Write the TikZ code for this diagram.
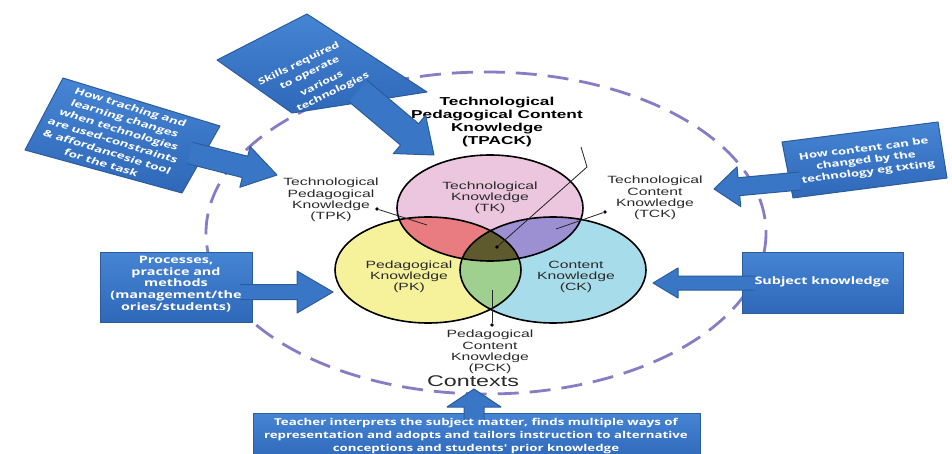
\documentclass[tikz,border=0pt]{standalone}
\usepackage{fontspec}
\usetikzlibrary{calc}
\newfontfamily\lblfont[FakeStretch=1.5]{Liberation Sans}
\newfontfamily\boxfont[FakeStretch=1.4]{Open Sans}
\definecolor{tkpink}{HTML}{EBC6DE}
\definecolor{pkyellow}{HTML}{F6F29C}
\definecolor{ckcyan}{HTML}{A7DCEA}
\definecolor{tpkred}{HTML}{E87C80}
\definecolor{tckpurple}{HTML}{9C90D2}
\definecolor{pckgreen}{HTML}{A0D08F}
\definecolor{tpackolive}{HTML}{5E5A2E}
\definecolor{calloutblue}{HTML}{3A76C6}
\definecolor{callouttop}{HTML}{4684D4}
\definecolor{calloutbottom}{HTML}{2F68B8}
\definecolor{calloutedge}{HTML}{2B5C9C}
\definecolor{contextline}{HTML}{8A7BC6}
\definecolor{lbltext}{HTML}{2A2A2A}

% arrow part of a callout: base point, tip, shaft half width, head half width, head length, prefix
\newcommand\calloutarrow[6]{%
  \coordinate (#6hb) at ($(#2)!#5!(#1)$);
  \coordinate (#6b1) at ($(#1)!#3!90:(#2)$);
  \coordinate (#6b2) at ($(#1)!#3!-90:(#2)$);
  \coordinate (#6s1) at ($(#6hb)!#3!90:(#2)$);
  \coordinate (#6s2) at ($(#6hb)!#3!-90:(#2)$);
  \coordinate (#6h1) at ($(#6hb)!#4!90:(#2)$);
  \coordinate (#6h2) at ($(#6hb)!#4!-90:(#2)$);
  \fill[calloutblue] (#6b1) -- (#6s1) -- (#6h1) -- (#2) -- (#6h2) -- (#6s2) -- (#6b2) -- cycle;
  \draw[calloutedge, line width=1pt, line join=round]
    (#6b1) -- (#6s1) -- (#6h1) -- (#2) -- (#6h2) -- (#6s2) -- (#6b2);
}
\newcommand\boxsize[2]{\boxfont\bfseries\fontsize{#1}{#2}\selectfont}

\begin{document}
\begin{tikzpicture}[x=1pt, y=-1pt,
  lbl/.style={font=\lblfont\fontsize{10.5}{11.2}\selectfont, text=lbltext, align=center, inner sep=0pt},
  boxtxt/.style={font=\boxsize{10.3}{12}, text=white, align=center, inner sep=0pt},
  callout/.style={top color=callouttop, bottom color=calloutbottom, draw=calloutedge,
    line width=1pt, line join=round},
  venn/.style={draw=black, line width=1.6pt},
  leader/.style={draw=black!85, line width=0.8pt},
  dot/.style={circle, fill=black, inner sep=0pt, minimum size=3.6pt}]

\useasboundingbox (0,0) rectangle (952,454);
\fill[white] (0,0) rectangle (952,454);

% dashed ring of contexts
\draw[contextline, line width=2.8pt, dash pattern=on 21pt off 11pt]
  (486,233) ellipse [x radius=280, y radius=161];

% ---------- Venn diagram ----------
\coordinate (tk) at (490,208);
\coordinate (pk) at (428,270);
\coordinate (ck) at (553,270);
\tikzset{vr/.style={x radius=93, y radius=53}}
\fill[tkpink] (tk) ellipse [vr];
\fill[pkyellow] (pk) ellipse [vr];
\fill[ckcyan] (ck) ellipse [vr];
\begin{scope}
  \clip (pk) ellipse [vr];
  \fill[pckgreen] (ck) ellipse [vr];
\end{scope}
\begin{scope}
  \clip (tk) ellipse [vr];
  \fill[tpkred] (pk) ellipse [vr];
  \fill[tckpurple] (ck) ellipse [vr];
  \clip (pk) ellipse [vr];
  \fill[tpackolive] (ck) ellipse [vr];
\end{scope}
\draw[venn] (tk) ellipse [vr];
\draw[venn] (pk) ellipse [vr];
\draw[venn] (ck) ellipse [vr];

% ---------- labels ----------
\node[lbl] (tklbl) at (490,198) {Technological\\Knowledge\\(TK)};
\node[lbl] (pklbl) at (409,277) {Pedagogical\\Knowledge\\(PK)};
\node[lbl] (cklbl) at (576,277) {Content\\Knowledge\\(CK)};
\node[lbl] (tpklbl) at (331,200) {Technological\\Pedagogical\\Knowledge\\(TPK)};
\node[lbl] (tcklbl) at (655,198) {Technological\\Content\\Knowledge\\(TCK)};
\node[lbl] (pcklbl) at (490,352) {Pedagogical\\Content\\Knowledge\\(PCK)};
\node[lbl, font=\lblfont\bfseries\fontsize{11.5}{13}\selectfont, text=black]
  (tpacklbl) at (497,122) {Technological\\Pedagogical Content\\Knowledge\\(TPACK)};
\node[lbl, font=\lblfont\fontsize{15.5}{16}\selectfont] (ctx) at (473,381) {Contexts};

% ---------- leader lines ----------
\node[dot] (tpkdot) at (377,209) {};
\coordinate (tpkend) at (427,225);
\draw[leader] (tpkdot) -- (tpkend);
\node[dot] (tckdot) at (605,212) {};
\coordinate (tckend) at (556,229);
\draw[leader] (tckdot) -- (tckend);
\node[dot] (pckdot) at (492,325) {};
\coordinate (pckend) at (492,290);
\draw[leader] (pckdot) -- (pckend);
\coordinate (tpackstart) at (581,147);
\coordinate (tpackbend) at (587,167);
\node[dot] (tpackdot) at (497,247) {};
\draw[leader] (tpackstart) -- (tpackbend) -- (tpackdot);

% ---------- callouts ----------
% teaching and learning with technologies
\coordinate (a1) at (25,150); \coordinate (a2) at (63,78);
\coordinate (a3) at (220,126); \coordinate (a4) at (182,193);
\coordinate (abase) at (190,153); \coordinate (atip) at (277,175);
\draw[callout] (a1) -- (a2) -- (a3) -- (a4) -- cycle;
\calloutarrow{abase}{atip}{11pt}{21pt}{33pt}{a}
\begin{scope}[shift={(116,135)}, cm={0.957,-0.293,0.467,0.884,(0,0)}]
  \node[boxtxt, transform shape, font=\boxsize{9.4}{12.6}] (atext) at (0,0)
    {How traching and\\learning changes\\when technologies\\are used-constraints\\\& affordancesie tool\\for the task};
\end{scope}

% skills
\coordinate (b1) at (217,60); \coordinate (b2) at (307,14);
\coordinate (b3) at (427,92); \coordinate (b4) at (292,113);
\coordinate (bbase) at (358,91); \coordinate (btip) at (434,155);
\draw[callout] (b1) -- (b2) -- (b3) -- (b4) -- cycle;
\calloutarrow{bbase}{btip}{14pt}{25pt}{32pt}{b}
\tikzset{skill/.style={boxtxt, rotate=26, font=\boxsize{8.9}{10}}}
\node[skill] (btext1) at (299,64) {Skills required};
\node[skill] (btext2) at (310,73.5) {to operate};
\node[skill] (btext3) at (321.5,83) {various};
\node[skill] (btext4) at (333,92.5) {technologies};

% content and technology
\coordinate (c1) at (782,142); \coordinate (c2) at (938,122);
\coordinate (c3) at (947,178); \coordinate (c4) at (793,198);
\coordinate (cbase) at (800,181); \coordinate (ctip) at (714,189);
\draw[callout] (c1) -- (c2) -- (c3) -- (c4) -- cycle;
\calloutarrow{cbase}{ctip}{9pt}{20pt}{25pt}{c}
\begin{scope}[shift={(866,161)}, cm={0.992,0.126,-0.193,0.982,(0,0)}]
  \node[boxtxt, transform shape, font=\boxsize{9.4}{11.8}]
    (ctext) at (0,0) {How content can be\\changed by the\\technology eg txting};
\end{scope}

% processes
\node[callout, minimum width=152pt, minimum height=70pt, inner sep=0pt] (dbox) at (176,287) {};
\coordinate (dbase) at (240,292); \coordinate (dtip) at (333,292);
\calloutarrow{dbase}{dtip}{7.5pt}{21pt}{36pt}{d}
\node[boxtxt, font=\boxsize{10.3}{11.8}] (dtext) at (176,284)
  {Processes,\\practice and\\methods\\(management/the\\ories/students)};

% subject knowledge
\node[callout, minimum width=161pt, minimum height=61pt, inner sep=0pt] (ebox) at (822.5,282.5) {};
\coordinate (ebase) at (755,283); \coordinate (etip) at (653,283);
\calloutarrow{ebase}{etip}{7pt}{15pt}{25pt}{e}
\node[boxtxt] (etext) at (822,282) {Subject knowledge};

% teacher interpretation
\coordinate (f1) at (253,413); \coordinate (f2) at (700,413);
\coordinate (f3) at (700,460); \coordinate (f4) at (253,460);
\draw[callout] (f1) -- (f2) -- (f3) -- (f4) -- cycle;
\coordinate (fbase) at (474,420); \coordinate (ftip) at (474,389);
\calloutarrow{fbase}{ftip}{10pt}{27pt}{18pt}{f}
\node[boxtxt, font=\boxsize{9.5}{13}] (ftext) at (476,436)
  {Teacher interprets the subject matter, finds multiple ways of\\representation and adopts and tailors instruction to alternative\\conceptions and students' prior knowledge};

\end{tikzpicture}
\end{document}
